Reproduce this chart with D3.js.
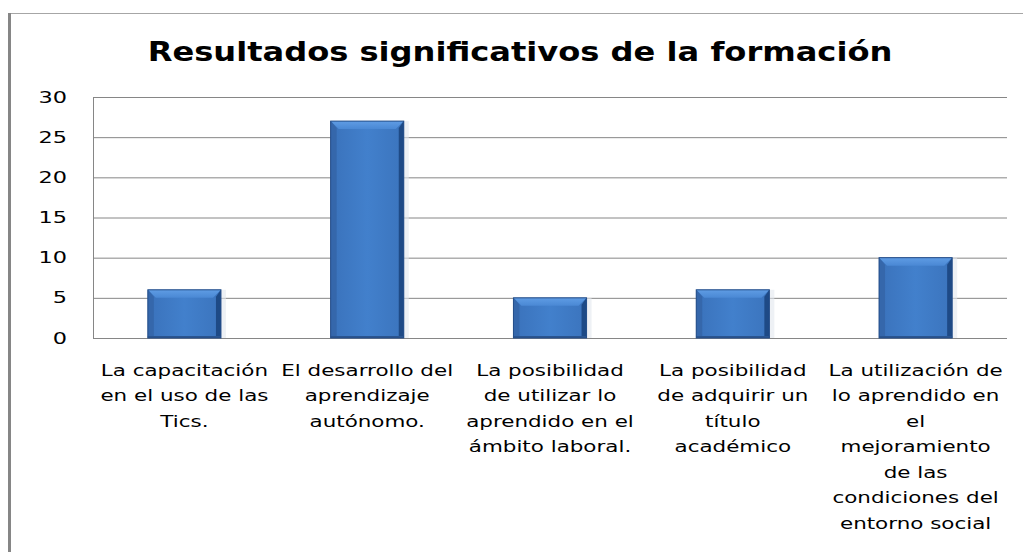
<!DOCTYPE html>
<html>
<head>
<meta charset="utf-8">
<script src="https://cdn.jsdelivr.net/npm/d3@7"></script>
<style>
  body { margin: 0; background: #fff; }
  svg text { font-family: "DejaVu Sans", Verdana, sans-serif; fill: #000; }
</style>
</head>
<body>
<svg id="chart"></svg>
<script>
// data
const categories = [
  "La capacitación\nen el uso de las\nTics.",
  "El desarrollo del\naprendizaje\nautónomo.",
  "La posibilidad\nde utilizar lo\naprendido en el\námbito laboral.",
  "La posibilidad\nde adquirir un\ntítulo\nacadémico",
  "La utilización de\nlo aprendido en\nel\nmejoramiento\nde las\ncondiciones del\nentorno social"
];
const values = [6, 27, 5, 6, 10];
const yTicks = [0, 5, 10, 15, 20, 25, 30];
const title = "Resultados significativos de la formación";

const width = 1023, height = 552;
const margin = {top: 97, right: 16, bottom: 214, left: 93};
const innerW = width - margin.left - margin.right;
const innerH = height - margin.top - margin.bottom;

// the source image is stretched sideways, text too
const titleStretch = 1.19, labelStretch = 1.34, tickStretch = 1.4;

const svg = d3.select('#chart')
    .attr('width', width)
    .attr('height', height);

// outer frame (left and top edges only are visible)
svg.append('line')
    .attr('x1', 8).attr('x2', width).attr('y1', 13.5).attr('y2', 13.5)
    .attr('stroke', '#a6a6a6').attr('stroke-width', 1);
svg.append('line')
    .attr('x1', 9.5).attr('x2', 9.5).attr('y1', 13).attr('y2', height)
    .attr('stroke', '#868686').attr('stroke-width', 3);

svg.append('text')
    .attr('transform', `translate(520,61) scale(${titleStretch},1)`)
    .attr('text-anchor', 'middle')
    .style('font-size', '27px')
    .style('font-weight', 'bold')
    .text(title);

const defs = svg.append('defs');
const grad = defs.append('linearGradient').attr('id', 'barGrad')
    .attr('x1', 0).attr('x2', 1).attr('y1', 0).attr('y2', 0);
grad.append('stop').attr('offset', '0%').attr('stop-color', '#3a72bb');
grad.append('stop').attr('offset', '50%').attr('stop-color', '#4280cc');
grad.append('stop').attr('offset', '100%').attr('stop-color', '#3b74bd');
const topGrad = defs.append('linearGradient').attr('id', 'topGrad')
    .attr('x1', 0).attr('x2', 0).attr('y1', 0).attr('y2', 1);
topGrad.append('stop').attr('offset', '0%').attr('stop-color', '#5f9ce4');
topGrad.append('stop').attr('offset', '100%').attr('stop-color', '#4a88d4');

const chart = svg.append('g')
    .attr('transform', `translate(${margin.left},${margin.top})`);

const xScale = d3.scaleBand()
    .domain(d3.range(categories.length))
    .range([0, innerW])
    .paddingInner(0.6)
    .paddingOuter(0.3);

const yScale = d3.scaleLinear()
    .domain([0, 30])
    .range([innerH, 0]);

// gridlines + y labels
const yAxis = d3.axisLeft(yScale)
    .tickValues(yTicks)
    .tickSize(-innerW)
    .tickPadding(26);

chart.append('g')
    .attr('class', 'axis y-axis')
    .call(yAxis)
    .call(g => g.select('.domain').remove())
    .call(g => g.selectAll('.tick line').attr('stroke', '#868686'))
    .call(g => g.selectAll('.tick text')
        .attr('x', -26 / tickStretch)
        .attr('transform', `scale(${tickStretch},1)`)
        .style('font-size', '16px')
        .style('font-family', '"DejaVu Sans", Verdana, sans-serif').attr('fill', '#000'));

// plot area left edge
chart.append('line')
    .attr('x1', 0.5).attr('x2', 0.5).attr('y1', 0).attr('y2', innerH)
    .attr('stroke', '#868686');

// bars
const bars = chart.selectAll('.bar')
    .data(values)
    .enter()
  .append('g')
    .attr('class', 'bar')
    .attr('transform', (d, i) => `translate(${xScale(i)},${yScale(d)})`);

const bw = xScale.bandwidth();
bars.append('rect')
    .attr('x', 2).attr('y', 0)
    .attr('width', bw + 3)
    .attr('height', d => innerH - yScale(d))
    .attr('fill', '#e3e7ee').attr('opacity', 0.6);
bars.append('rect')
    .attr('width', bw)
    .attr('height', d => innerH - yScale(d))
    .attr('fill', 'url(#barGrad)');
// top bevel
bars.append('path')
    .attr('d', `M0,0 H${bw} L${bw - 8},8 H8 Z`)
    .attr('fill', 'url(#topGrad)');
// right bevel (dark)
bars.append('path')
    .attr('d', d => {
      const h = innerH - yScale(d);
      return `M${bw},0 V${h} H${bw - 5} V7 Z`;
    })
    .attr('fill', '#1e4a86');
// left bevel
bars.append('path')
    .attr('d', d => {
      const h = innerH - yScale(d);
      return `M0,0 L6,7 V${h} H0 Z`;
    })
    .attr('fill', '#3567ab');
// bottom dark strip
bars.append('rect')
    .attr('y', d => innerH - yScale(d) - 2)
    .attr('width', bw)
    .attr('height', 2)
    .attr('fill', '#2a5590');
bars.append('rect')
    .attr('width', bw)
    .attr('height', d => innerH - yScale(d))
    .attr('fill', 'none')
    .attr('stroke', '#244d88')
    .attr('stroke-width', 1);

// category labels
const step = innerW / categories.length;
chart.selectAll('.cat')
    .data(categories)
    .enter()
  .append('text')
    .attr('class', 'cat')
    .attr('text-anchor', 'middle')
    .style('font-size', '16px')
    .attr('transform', (d, i) => `translate(${step * (i + 0.5)},${innerH + 38}) scale(${labelStretch},1)`)
    .selectAll('tspan')
    .data(d => d.split('\n'))
    .enter()
  .append('tspan')
    .attr('x', 0)
    .attr('y', (d, i) => i * 25.5)
    .text(d => d);
</script>
</body>
</html>
